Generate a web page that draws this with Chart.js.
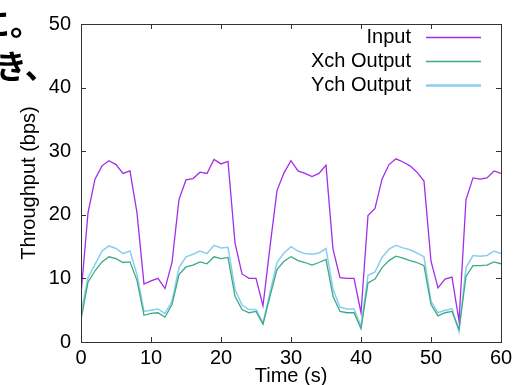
<!DOCTYPE html>
<html>
<head>
<meta charset="utf-8">
<script src="https://cdn.jsdelivr.net/npm/chart.js@4/dist/chart.umd.min.js"></script>
<style>
  body { margin: 0; background: #fff; overflow: hidden; }
  #wrap { position: relative; width: 513px; height: 385px; overflow: hidden; }
  #chart { position: absolute; left: 0; top: 0; }
  .jp { position: absolute; font-family: "Noto Sans CJK JP", sans-serif; font-weight: bold; font-size: 32px; line-height: 1; color: #000; white-space: nowrap; }
</style>
</head>
<body>
<div id="wrap">
  <canvas id="chart" width="513" height="385"></canvas>
  <div class="jp" style="left:-22px; top:5px;">に。</div>
  <div class="jp" style="left:-5px; top:48px;">き、</div>
</div>
<script>
const times = [0, 1, 2, 3, 4, 5, 6, 7, 8, 9, 10, 11, 12, 13, 14, 15, 16, 17, 18, 19, 20,
  21, 22, 23, 24, 25, 26, 27, 28, 29, 30, 31, 32, 33, 34, 35, 36, 37, 38, 39, 40,
  41, 42, 43, 44, 45, 46, 47, 48, 49, 50, 51, 52, 53, 54, 55, 56, 57, 58, 59, 60];

const inputBps = [7.5, 20.3, 25.6, 27.7, 28.5, 27.9, 26.5, 26.9, 20.3, 9.1, 9.6,
  10.0, 8.4, 12.5, 22.4, 25.5, 25.7, 26.7, 26.5, 28.7, 28.0,
  28.4, 15.6, 10.7, 10.0, 10.0, 5.7, 15.0, 23.8, 26.6, 28.5,
  26.9, 26.5, 26.0, 26.5, 27.8, 14.6, 10.1, 10.0, 10.0, 4.6,
  19.9, 21.0, 25.6, 27.9, 28.8, 28.3, 27.7, 26.7, 25.3, 12.7,
  8.5, 9.9, 10.2, 3.3, 22.4, 25.8, 25.6, 25.8, 26.9, 26.5];

const xchOutput = [3.5, 9.4, 11.2, 12.6, 13.4, 13.1, 12.5, 12.6, 9.7, 4.2, 4.5,
  4.6, 3.9, 5.9, 10.6, 11.8, 12.1, 12.6, 12.3, 13.4, 13.1,
  13.3, 7.2, 5.1, 4.6, 4.8, 2.8, 7.2, 11.4, 12.7, 13.4,
  12.8, 12.5, 12.1, 12.5, 13.0, 7.2, 4.8, 4.6, 4.6, 2.1,
  9.3, 9.9, 11.7, 12.8, 13.5, 13.2, 12.8, 12.5, 12.0, 5.9,
  4.1, 4.6, 4.8, 2.0, 10.3, 12.0, 12.0, 12.1, 12.6, 12.3];

const ychOutput = [4.6, 10.1, 12.2, 14.3, 15.1, 14.7, 13.9, 14.3, 10.6, 4.8, 5.0,
  5.2, 4.5, 6.4, 11.7, 13.4, 13.8, 14.3, 13.9, 15.2, 14.8,
  14.9, 8.3, 5.8, 5.1, 5.1, 3.0, 7.8, 12.5, 14.0, 15.0,
  14.3, 13.9, 13.8, 14.0, 14.7, 8.3, 5.5, 5.2, 5.2, 2.5,
  10.5, 11.0, 13.3, 14.6, 15.2, 14.8, 14.5, 14.0, 13.4, 6.4,
  4.6, 5.0, 5.2, 1.6, 11.7, 13.6, 13.5, 13.6, 14.3, 13.9];

const seriesNames = ['Input', 'Xch Output', 'Ych Output'];
const seriesColors = ['#a22ee6', '#3aab84', '#8ccdf0'];

function toPoints(values) {
  return values.map((v, i) => ({ x: times[i], y: v }));
}

const FONT = 'Liberation Sans, Arial, sans-serif';

// gnuplot style frame: border box and inward ticks on all four sides
const framePlugin = {
  id: 'frame',
  afterDatasetsDraw(chart) {
    const ctx = chart.ctx;
    const a = chart.chartArea;
    const tl = 5;
    ctx.save();
    ctx.strokeStyle = '#333';
    ctx.lineWidth = 1;
    ctx.beginPath();
    chart.scales.x.ticks.forEach(t => {
      const px = Math.round(chart.scales.x.getPixelForValue(t.value)) + 0.5;
      ctx.moveTo(px, a.bottom); ctx.lineTo(px, a.bottom - tl);
      ctx.moveTo(px, a.top); ctx.lineTo(px, a.top + tl);
    });
    chart.scales.y.ticks.forEach(t => {
      const py = Math.round(chart.scales.y.getPixelForValue(t.value)) + 0.5;
      ctx.moveTo(a.left, py); ctx.lineTo(a.left + tl, py);
      ctx.moveTo(a.right, py); ctx.lineTo(a.right - tl, py);
    });
    ctx.stroke();
    ctx.strokeRect(Math.round(a.left) + 0.5, Math.round(a.top) + 0.5,
      Math.round(a.right - a.left), Math.round(a.bottom - a.top));
    ctx.restore();
  }
};

// key in the top right corner: label right-aligned, line sample after it
const keyPlugin = {
  id: 'key',
  afterDatasetsDraw(chart) {
    const ctx = chart.ctx;
    const a = chart.chartArea;
    ctx.save();
    ctx.font = '20px ' + FONT;
    ctx.textAlign = 'right';
    ctx.textBaseline = 'middle';
    chart.data.datasets.forEach((ds, i) => {
      const y = a.top + 13 + i * 24;
      ctx.fillStyle = '#000';
      ctx.fillText(ds.label, a.right - 90, y);
      ctx.strokeStyle = ds.borderColor;
      ctx.lineWidth = i === 2 ? 2.5 : 1.5;
      ctx.beginPath();
      ctx.moveTo(a.right - 75, y + 0.5);
      ctx.lineTo(a.right - 20, y + 0.5);
      ctx.stroke();
    });
    ctx.restore();
  }
};

new Chart(document.getElementById('chart'), {
  type: 'line',
  data: {
    datasets: [
      { label: seriesNames[0], data: toPoints(inputBps), borderColor: seriesColors[0], borderWidth: 1.3 },
      { label: seriesNames[1], data: toPoints(xchOutput), borderColor: seriesColors[1], borderWidth: 1.3 },
      { label: seriesNames[2], data: toPoints(ychOutput), borderColor: seriesColors[2], borderWidth: 1.5 }
    ]
  },
  plugins: [framePlugin, keyPlugin],
  options: {
    responsive: false,
    animation: false,
    layout: { padding: { left: 0, right: 12, top: 24, bottom: 0 } },
    elements: { point: { radius: 0 }, line: { tension: 0 } },
    plugins: { legend: { display: false }, tooltip: { enabled: false } },
    scales: {
      x: {
        type: 'linear',
        min: 0,
        max: 60,
        ticks: { stepSize: 10, color: '#000', font: { family: FONT, size: 20 }, padding: 4, maxRotation: 0 },
        grid: { display: false, drawTicks: false },
        border: { display: false },
        title: { display: true, text: 'Time (s)', color: '#000', font: { family: FONT, size: 20 }, padding: { top: 0, bottom: -3 } },
        afterFit(scale) {
          scale.height = 43;
          scale.paddingLeft = 0;
          scale.paddingRight = 0;
        }
      },
      y: {
        min: 0,
        max: 50,
        ticks: { stepSize: 10, color: '#000', font: { family: FONT, size: 20 }, padding: 10 },
        grid: { display: false, drawTicks: false },
        border: { display: false },
        title: { display: true, text: 'Throughput (bps)', color: '#000', font: { family: FONT, size: 20 }, padding: { top: 17, bottom: 0 } },
        afterFit(scale) { scale.width = 81; }
      }
    }
  }
});
</script>
</body>
</html>
